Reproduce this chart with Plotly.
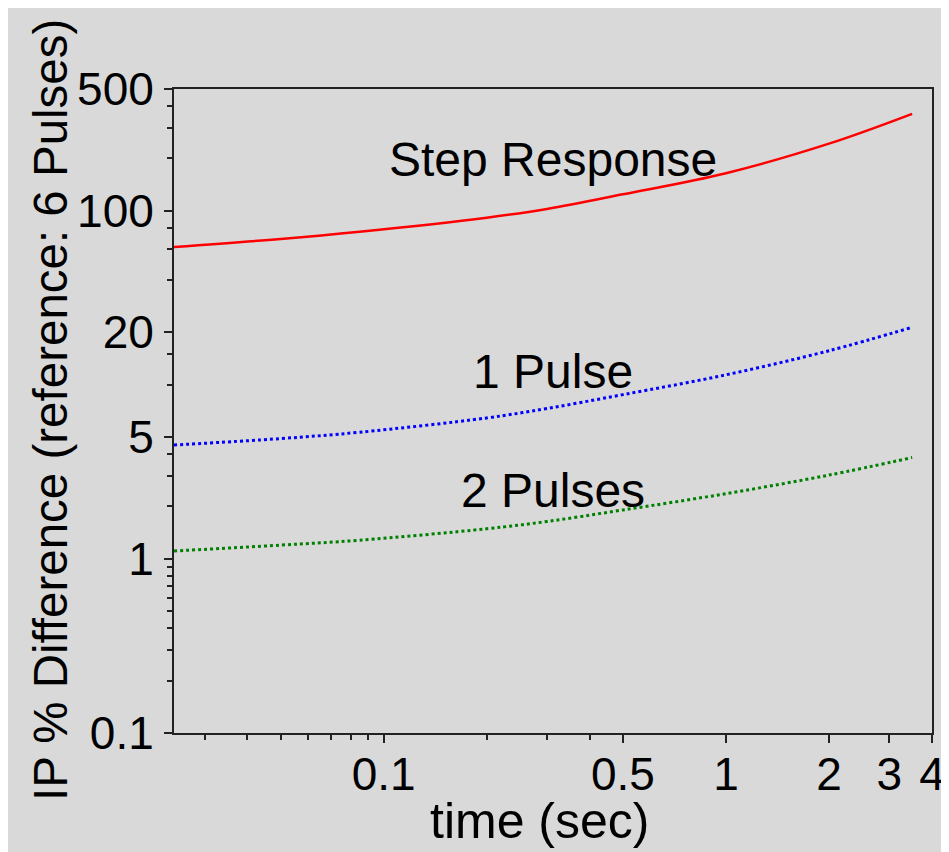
import plotly.graph_objects as go
import math

# ---- data ----
time_s = [0.0244, 0.05, 0.085, 0.2, 0.3, 0.5, 1.0, 2.0, 3.5]
step_response = [61.9, 68.8, 75.7, 91.2, 102.4, 124.2, 164.1, 242.6, 360.0]
one_pulse = [4.51, 4.91, 5.34, 6.45, 7.31, 8.78, 11.41, 15.69, 21.4]
two_pulses = [1.11, 1.20, 1.28, 1.49, 1.64, 1.91, 2.37, 3.03, 3.82]

x_major = [0.1, 0.5, 1, 2, 3, 4]
x_major_text = ["0.1", "0.5", "1", "2", "3", "4"]
x_minor = [0.03, 0.04, 0.05, 0.06, 0.07, 0.08, 0.09, 0.2, 0.3, 0.4]
y_major = [0.1, 1, 5, 20, 100, 500]
y_major_text = ["0.1", "1", "5", "20", "100", "500"]
y_minor = [0.2, 0.3, 0.4, 0.5, 0.6, 0.7, 0.8, 0.9, 2, 3, 4, 10, 15, 40, 60, 80, 200, 300, 400]

labels = ["Step Response", "1 Pulse", "2 Pulses"]
label_y = [0.8905, 0.5606, 0.3758]

BG = "#d9d9d9"
FONT = "Liberation Sans, Arial, sans-serif"
FS = 46

# page body has an 8px margin: figure is placed at (8, 8)
OFF = 8
W, H = 949 - OFF, 852 - OFF
PL, PR, PT, PB = 174 - OFF, 932 - OFF, 89 - OFF, 733 - OFF
PW, PH = PR - PL, PB - PT


def px(xpage):
    return (xpage - OFF - PL) / PW


def py(ypage):
    return 1 - (ypage - OFF - PT) / PH


fig = go.Figure()
fig.add_trace(go.Scatter(x=time_s, y=step_response, mode="lines",
                         line=dict(color="#ff0000", width=2.5, shape="spline", smoothing=1),
                         showlegend=False))
fig.add_trace(go.Scatter(x=time_s, y=one_pulse, mode="lines",
                         line=dict(color="#0000ff", width=3, dash="dot", shape="spline", smoothing=1),
                         showlegend=False))
fig.add_trace(go.Scatter(x=time_s, y=two_pulses, mode="lines",
                         line=dict(color="#008000", width=3, dash="dot", shape="spline", smoothing=1),
                         showlegend=False))

for txt, yy in zip(labels, label_y):
    fig.add_annotation(text=txt, x=0.5, y=yy, xref="paper", yref="paper",
                       showarrow=False, font=dict(family=FONT, size=48, color="black"),
                       xanchor="center", yanchor="middle")

fig.add_annotation(text="time (sec)", x=px(539), y=py(821),
                   xref="paper", yref="paper", showarrow=False,
                   font=dict(family=FONT, size=50, color="black"),
                   xanchor="center", yanchor="middle")
fig.add_annotation(text="IP % Difference (reference: 6 Pulses)", x=px(50),
                   y=py(410), xref="paper", yref="paper", showarrow=False,
                   textangle=-90, font=dict(family=FONT, size=47.5, color="black"),
                   xanchor="center", yanchor="middle")

axis_common = dict(showgrid=False, zeroline=False, showline=True, linecolor="#222222",
                   linewidth=2, mirror=True, ticks="outside", ticklen=8, tickwidth=1.5,
                   tickcolor="#222222", automargin=False,
                   tickfont=dict(family=FONT, size=FS, color="black"))

fig.update_xaxes(type="log", range=[math.log10(0.0244), math.log10(4)],
                 tickmode="array", tickvals=x_major, ticktext=x_major_text,
                 minor=dict(tickmode="array", tickvals=x_minor, ticklen=5, tickwidth=1.5,
                            tickcolor="#222222", ticks="outside", showgrid=False),
                 ticklabelstandoff=-8, **axis_common)
fig.update_yaxes(type="log", range=[-1, math.log10(500)],
                 tickmode="array", tickvals=y_major, ticktext=y_major_text,
                 minor=dict(tickmode="array", tickvals=y_minor, ticklen=5, tickwidth=1.5,
                            tickcolor="#222222", ticks="outside", showgrid=False),
                 ticklabelstandoff=1, **axis_common)

fig.update_layout(width=W, height=H, paper_bgcolor=BG, plot_bgcolor=BG,
                  margin=dict(l=PL, r=W - PR, t=PT, b=H - PB, autoexpand=False),
                  font=dict(family=FONT, size=FS, color="black"), showlegend=False)

fig.write_html("out.html")
